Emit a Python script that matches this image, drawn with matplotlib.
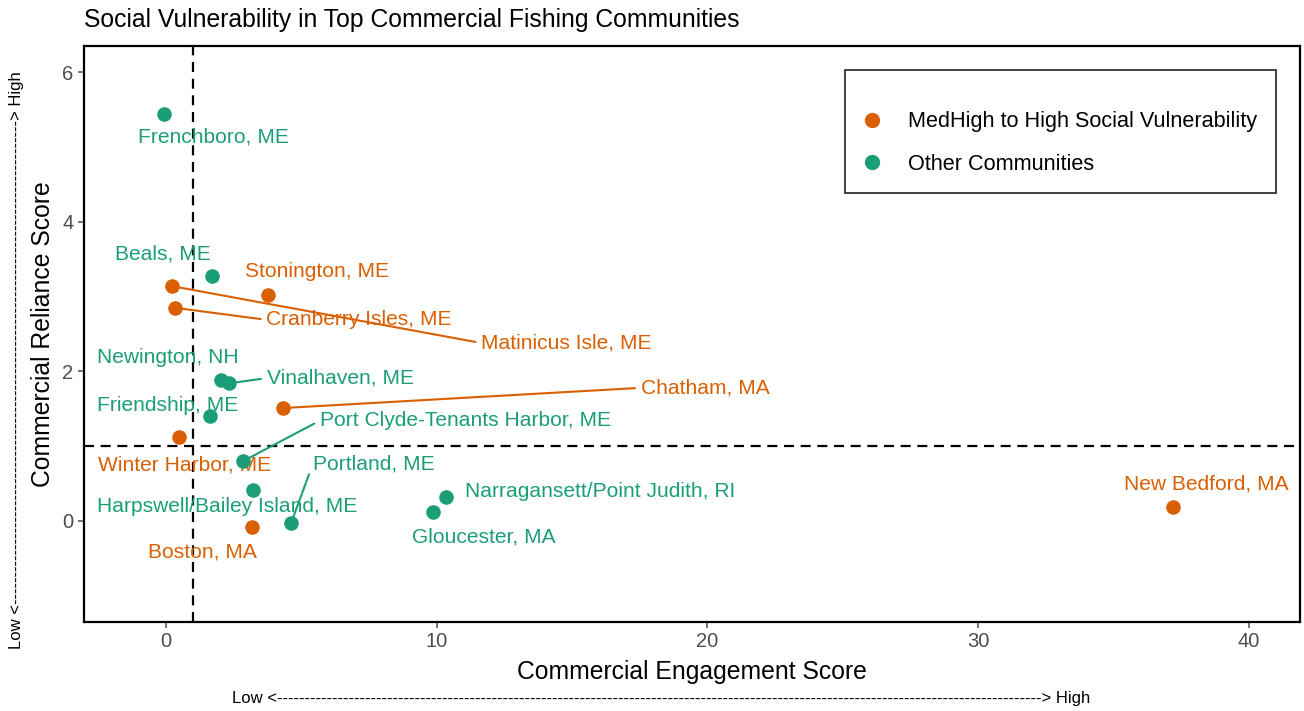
import numpy as np
import matplotlib
matplotlib.use("Agg")
import matplotlib.pyplot as plt
from matplotlib.lines import Line2D

plt.rcParams['font.family'] = ['Liberation Sans', 'DejaVu Sans']

# dados
communities = ["Frenchboro, ME", "Beals, ME", "Stonington, ME", "Matinicus Isle, ME",
               "Cranberry Isles, ME", "Newington, NH", "Vinalhaven, ME", "Friendship, ME",
               "Chatham, MA", "Winter Harbor, ME", "Port Clyde-Tenants Harbor, ME",
               "Harpswell/Bailey Island, ME", "Boston, MA", "Portland, ME",
               "Gloucester, MA", "Narragansett/Point Judith, RI", "New Bedford, MA"]
engagement = [-0.07, 1.70, 3.77, 0.22, 0.33, 2.03, 2.33, 1.63, 4.33, 0.48, 2.85,
              3.22, 3.18, 4.62, 9.87, 10.35, 37.19]
reliance = [5.44, 3.27, 3.02, 3.14, 2.85, 1.89, 1.84, 1.40, 1.51, 1.12, 0.80,
            0.41, -0.08, -0.03, 0.12, 0.32, 0.19]
high_vuln = [False, False, True, True, True, False, False, False, True, True, False,
             False, True, False, False, False, True]

# posicao dos rotulos (como o ggrepel deixou) e se tem linha ligando
label_x = [1.74, -0.11, 5.58, 14.79, 7.13, 0.07, 6.43, 0.06, 19.91, 0.67, 11.05,
           2.26, 1.33, 7.67, 11.74, 16.03, 38.45]
label_y = [5.13, 3.57, 3.33, 2.38, 2.69, 2.18, 1.91, 1.55, 1.78, 0.75, 1.34,
           0.19, -0.41, 0.76, -0.21, 0.40, 0.49]
has_line = [False, False, False, True, True, False, True, False, True, False, True,
            False, False, True, False, False, False]

orange = '#D95F02'
teal = '#1B9E77'

fig = plt.figure(figsize=(13.04, 7.11), dpi=100)
ax = fig.add_axes([0.0644, 0.1252, 0.9326, 0.8101])

for i in range(len(communities)):
    cor = orange if high_vuln[i] else teal
    ax.scatter(engagement[i], reliance[i], s=110, color=cor, zorder=3, linewidths=0)
    if has_line[i]:
        ax.annotate(communities[i], xy=(engagement[i], reliance[i]),
                    xytext=(label_x[i], label_y[i]), ha='center', va='center',
                    fontsize=15.1, color=cor,
                    arrowprops=dict(arrowstyle='-', color=cor, lw=1.5, relpos=(0, 0.5),
                                    shrinkA=2, shrinkB=4))
    else:
        ax.text(label_x[i], label_y[i], communities[i], ha='center', va='center',
                fontsize=15.1, color=cor)

# linhas de referencia
ax.axvline(1, color='black', lw=1.6, ls=(0, (4.5, 3)), zorder=1)
ax.axhline(1, color='black', lw=1.6, ls=(0, (4.5, 3)), zorder=1)

ax.set_xlim(-3.03, 41.9)
ax.set_ylim(-1.35, 6.35)
ax.set_xticks([0, 10, 20, 30, 40])
ax.set_yticks([0, 2, 4, 6])
ax.tick_params(labelsize=14.5, colors='#4D4D4D', length=4.5, width=1.1, pad=3)
for s in ax.spines.values():
    s.set_linewidth(1.6)
    s.set_color('black')

ax.set_xlabel('Commercial Engagement Score', fontsize=17.8, labelpad=6)
ax.set_ylabel('Commercial Reliance Score', fontsize=17.8, labelpad=5)
ax.set_title('Social Vulnerability in Top Commercial Fishing Communities',
             fontsize=17.8, loc='left', x=0.0, pad=14)

# legenda
handles = [Line2D([], [], marker='o', ls='', color=orange, markersize=10),
           Line2D([], [], marker='o', ls='', color=teal, markersize=10)]
leg = ax.legend(handles, ['MedHigh to High Social Vulnerability', 'Other Communities'],
                loc='upper right', bbox_to_anchor=(0.980, 0.958), fontsize=15.6,
                title=' ', title_fontsize=1, frameon=True, fancybox=False,
                borderpad=0.85, labelspacing=1.0, handlelength=0.8,
                handletextpad=1.25, borderaxespad=0)
leg.get_frame().set_edgecolor('black')
leg.get_frame().set_linewidth(1.3)

# setas low/high nos eixos
fig.text(0.507, 0.018, 'Low <' + '-' * 139 + '> High', ha='center', va='center', fontsize=12)
fig.text(0.013, 0.494, 'Low <' + '-' * 88 + '> High', ha='center', va='center',
         fontsize=12, rotation=90)

fig.savefig('out.png', dpi=100)
